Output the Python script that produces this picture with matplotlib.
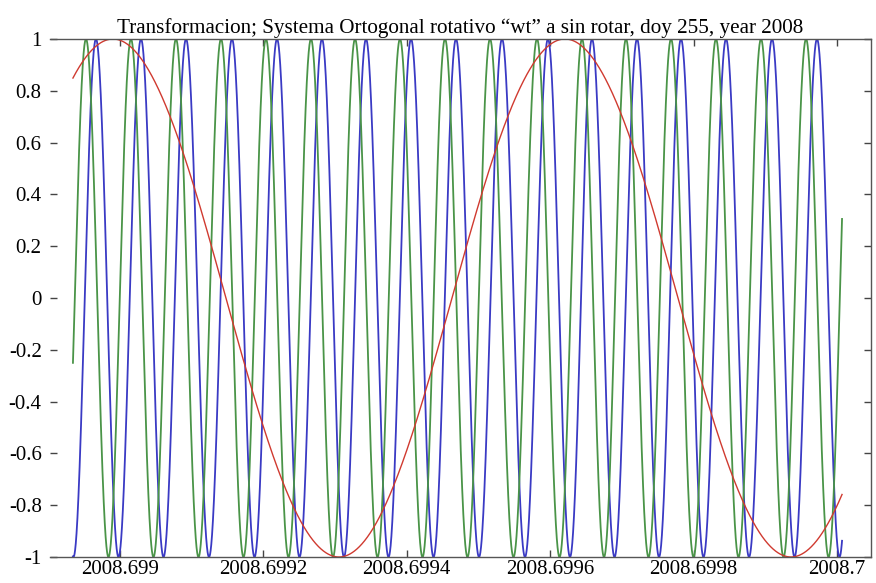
import numpy as np
import matplotlib
matplotlib.use("Agg")
import matplotlib.pyplot as plt

# times of the maxima (year)
green_peaks = [2008.6989526, 2008.6990153, 2008.6990781, 2008.6991409, 2008.6992036,
               2008.6992664, 2008.6993278, 2008.6993905, 2008.6994533, 2008.6995160,
               2008.6995816, 2008.6996444, 2008.6997057, 2008.6997685, 2008.6998312,
               2008.6998940, 2008.6999568]
blue_peaks = [2008.6989665, 2008.6990293, 2008.6990921, 2008.6991562, 2008.6992190,
              2008.6992817, 2008.6993431, 2008.6994059, 2008.6994686, 2008.6995328,
              2008.6995969, 2008.6996583, 2008.6997211, 2008.6997824, 2008.6998452,
              2008.6999094, 2008.6999721]
red_peaks = [2008.6989902, 2008.6996206]

t_start = 2008.6989344
t_end = 2008.7000070

xticks = [2008.699, 2008.6992, 2008.6994, 2008.6996, 2008.6998, 2008.7]
xtick_labels = ["2008.699", "2008.6992", "2008.6994", "2008.6996", "2008.6998", "2008.7"]
yticks = [-1, -0.8, -0.6, -0.4, -0.2, 0, 0.2, 0.4, 0.6, 0.8, 1]
ytick_labels = ["-1", "-0.8", "-0.6", "-0.4", "-0.2", "0", "0.2", "0.4", "0.6", "0.8", "1"]

title = "Transformacion; Systema Ortogonal rotativo \u201cwt\u201d a sin rotar, doy 255, year 2008"


def wave(t, peaks):
    """cosine whose maxima sit on the measured peak times"""
    peaks = np.asarray(peaks)
    idx = np.arange(len(peaks))
    k = np.interp(t, peaks, idx)
    first = peaks[1] - peaks[0] if len(peaks) > 1 else 1.0
    last = peaks[-1] - peaks[-2] if len(peaks) > 1 else 1.0
    k = np.where(t < peaks[0], (t - peaks[0]) / first, k)
    k = np.where(t > peaks[-1], idx[-1] + (t - peaks[-1]) / last, k)
    return np.cos(2 * np.pi * k)


plt.rcParams['font.family'] = ['Liberation Serif', 'DejaVu Serif']
plt.rcParams['axes.unicode_minus'] = False

fig = plt.figure(figsize=(8.76, 5.83), dpi=100)
ax = fig.add_axes([50 / 876, 26 / 583, 821 / 876, 518 / 583])

t = np.linspace(t_start, t_end, 6000)
ax.plot(t, wave(t, blue_peaks), color='#3a3ac4', lw=1.3)
ax.plot(t, wave(t, green_peaks), color='#4a9448', lw=1.3)
ax.plot(t, wave(t, red_peaks), color='#d03a30', lw=1.0)

ax.set_xlim(2008.6989024, 2008.7000474)
ax.set_ylim(-1, 1)
ax.set_xticks(xticks)
ax.set_xticklabels(xtick_labels)
ax.set_yticks(yticks)
ax.set_yticklabels(ytick_labels)
ax.tick_params(direction='in', length=5, width=1, color='#444444', labelsize=15,
               top=True, right=True)
ax.tick_params(axis='x', pad=2)
ax.tick_params(axis='y', pad=6)
for s in ax.spines.values():
    s.set_color('#555555')
    s.set_linewidth(1.0)
ax.spines['left'].set_visible(False)
ax.set_title(title, fontsize=15.2, pad=4)

fig.savefig("out.png", dpi=100, facecolor='white')
